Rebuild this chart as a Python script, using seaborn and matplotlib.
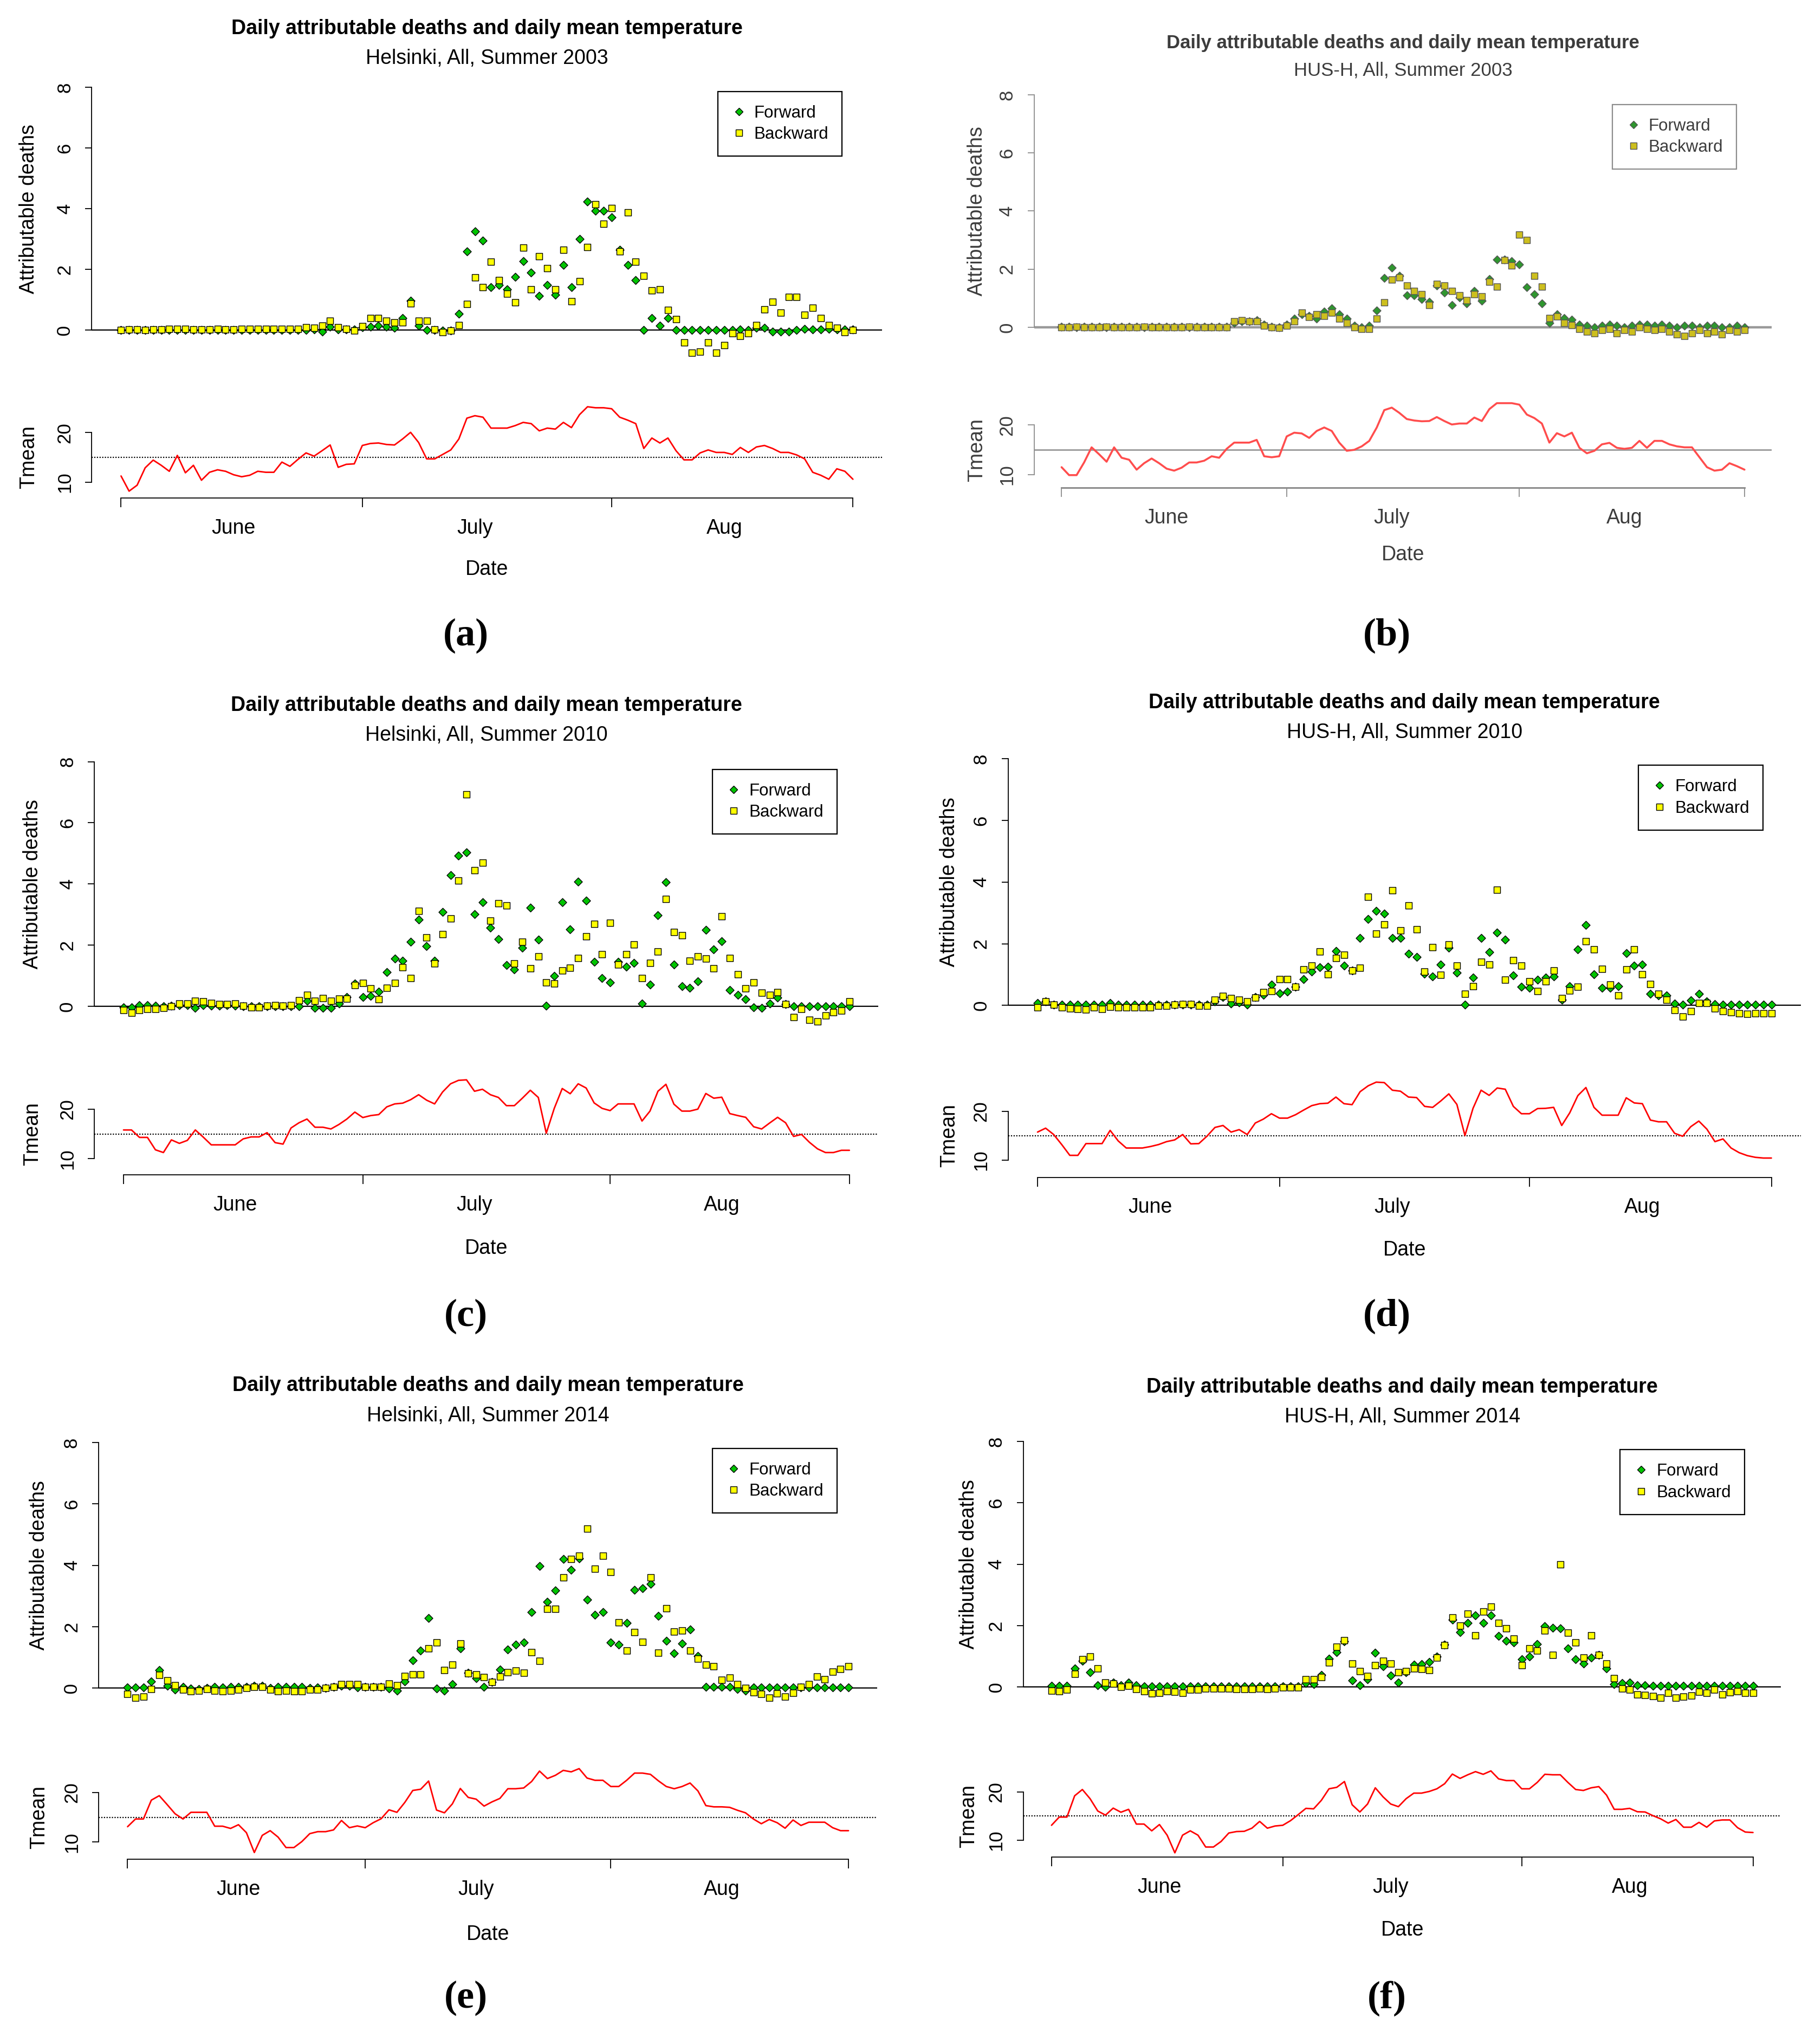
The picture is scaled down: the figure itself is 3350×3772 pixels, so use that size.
import numpy as np
import matplotlib
matplotlib.use("Agg")
import matplotlib.pyplot as plt
import seaborn as sns
from matplotlib.lines import Line2D

# ---- data: one value per day, 1 June .. 31 August (92 days) ----
# (a) Helsinki 2003
fwd_a = [0.0, 0.0, 0.0, 0.0, 0.0, 0.0, 0.0, 0.0, 0.0, 0.0,
         0.0, 0.0, 0.0, 0.0, 0.0, 0.0, 0.0, 0.0, 0.0, 0.0,
         0.0, 0.0, 0.0, 0.0, 0.02, -0.05, 0.12, 0.02, 0.02, 0.02,
         0.1, 0.12, 0.15, 0.12, 0.08, 0.4, 0.97, 0.14, 0.0, 0.0,
         -0.02, -0.02, 0.54, 2.6, 3.26, 2.95, 1.42, 1.48, 1.34, 1.76,
         2.28, 1.9, 1.13, 1.48, 1.16, 2.14, 1.42, 3.01, 4.23, 3.93,
         3.93, 3.71, 2.64, 2.14, 1.65, 0.0, 0.39, 0.15, 0.4, 0.0,
         0.0, 0.0, 0.0, 0.0, 0.0, 0.0, 0.0, 0.02, 0.0, 0.08,
         0.08, -0.04, -0.05, -0.05, 0.0, 0.05, 0.02, 0.02, 0.05, 0.02,
         0.02, 0.02]
bwd_a = [0.0, 0.02, 0.02, 0.0, 0.02, 0.02, 0.05, 0.05, 0.05, 0.02,
         0.02, 0.02, 0.05, 0.02, 0.02, 0.05, 0.05, 0.05, 0.05, 0.05,
         0.05, 0.05, 0.05, 0.1, 0.08, 0.15, 0.3, 0.1, 0.05, -0.01,
         0.13, 0.4, 0.4, 0.3, 0.25, 0.25, 0.88, 0.3, 0.3, 0.02,
         -0.06, -0.02, 0.17, 0.87, 1.73, 1.42, 2.25, 1.65, 1.2, 0.92,
         2.71, 1.34, 2.43, 2.04, 1.35, 2.64, 0.96, 1.61, 2.74, 4.14,
         3.51, 4.02, 2.6, 3.88, 2.25, 1.79, 1.31, 1.35, 0.67, 0.36,
         -0.4, -0.75, -0.7, -0.4, -0.75, -0.5, -0.1, -0.19, -0.1, 0.17,
         0.68, 0.94, 0.58, 1.09, 1.09, 0.5, 0.73, 0.4, 0.17, 0.08,
         -0.06, 0.0]
tmean_a = [11.25, 8.2, 9.4, 12.9, 14.45, 13.4, 12.2, 15.4, 11.9, 13.4,
           10.4, 12.0, 12.5, 12.2, 11.5, 11.1, 11.4, 12.2, 12.0, 12.0,
           14.05, 13.2, 14.6, 15.9, 15.25, 16.35, 17.5, 13.0, 13.6, 13.7,
           17.4, 17.8, 17.9, 17.6, 17.5, 18.7, 20.05, 18.0, 14.7, 14.7,
           15.6, 16.5, 18.7, 22.9, 23.4, 23.1, 20.9, 20.9, 20.9, 21.4,
           22.05, 21.8, 20.35, 20.9, 20.7, 22.05, 21.0, 23.6, 25.2, 25.0,
           25.0, 24.8, 23.1, 22.5, 21.8, 16.8, 18.9, 17.9, 18.9, 16.35,
           14.5, 14.5, 15.9, 16.5, 16.0, 16.0, 15.6, 17.0, 16.0, 17.1,
           17.4, 16.8, 16.0, 16.0, 15.5, 14.7, 12.0, 11.4, 10.6, 12.7,
           12.2, 10.6]

# (b) HUS-H 2003
fwd_b = [0.02, 0.02, 0.0, 0.02, 0.02, 0.02, 0.0, 0.02, 0.02, 0.02,
         0.02, 0.0, 0.02, 0.02, 0.02, 0.02, 0.02, 0.0, 0.02, 0.02,
         0.02, 0.02, 0.02, 0.15, 0.2, 0.2, 0.25, 0.1, 0.02, 0.0,
         0.1, 0.3, 0.45, 0.4, 0.3, 0.55, 0.65, 0.45, 0.3, 0.05,
         0.0, 0.05, 0.57, 1.7, 2.06, 1.78, 1.1, 1.1, 0.97, 0.88,
         1.44, 1.2, 0.76, 1.03, 0.82, 1.25, 0.91, 1.66, 2.34, 2.34,
         2.28, 2.16, 1.38, 1.13, 0.82, 0.14, 0.45, 0.32, 0.26, 0.1,
         0.05, 0.0, 0.05, 0.1, 0.05, 0.0, 0.05, 0.1, 0.1, 0.05,
         0.1, 0.05, 0.0, 0.05, 0.05, 0.0, 0.05, 0.05, 0.0, 0.0,
         0.05, 0.0]
bwd_b = [0.0, 0.0, 0.02, 0.0, 0.0, 0.0, 0.02, 0.0, 0.0, 0.0,
         0.0, 0.02, 0.0, 0.0, 0.0, 0.0, 0.0, 0.02, 0.0, 0.0,
         0.0, 0.0, 0.0, 0.2, 0.25, 0.2, 0.2, 0.05, 0.0, -0.02,
         0.05, 0.2, 0.5, 0.35, 0.45, 0.4, 0.5, 0.3, 0.15, 0.0,
         -0.05, -0.05, 0.3, 0.85, 1.65, 1.72, 1.44, 1.25, 1.13, 0.76,
         1.5, 1.44, 1.25, 1.1, 0.94, 1.13, 1.07, 1.57, 1.4, 2.31,
         2.12, 3.18, 3.0, 1.78, 1.4, 0.32, 0.38, 0.14, 0.07, -0.05,
         -0.15, -0.2, -0.1, -0.05, -0.2, -0.1, -0.15, 0.0, -0.05, -0.1,
         -0.05, -0.15, -0.25, -0.3, -0.2, -0.1, -0.2, -0.15, -0.25, -0.1,
         -0.15, -0.1]
tmean_b = [11.5, 9.9, 9.9, 12.45, 15.5, 14.1, 12.6, 15.5, 13.4, 13.0,
           11.0, 12.3, 13.25, 12.3, 11.2, 10.8, 11.4, 12.45, 12.45, 12.8,
           13.7, 13.4, 15.2, 16.45, 16.45, 16.45, 17.0, 13.7, 13.5, 13.7,
           17.7, 18.45, 18.3, 17.4, 18.8, 19.5, 18.8, 16.45, 14.8, 15.0,
           15.7, 16.8, 19.5, 23.0, 23.5, 22.45, 21.2, 20.9, 20.75, 20.8,
           21.6, 20.8, 20.1, 20.3, 20.3, 21.5, 20.8, 23.2, 24.4, 24.4,
           24.4, 24.1, 22.1, 21.4, 20.3, 16.45, 18.35, 17.7, 18.45, 15.4,
           14.3, 14.8, 16.1, 16.4, 15.4, 15.2, 15.4, 16.8, 15.4, 16.8,
           16.8, 16.1, 15.7, 15.5, 15.5, 13.5, 11.5, 10.8, 11.0, 12.3,
           11.7, 11.0]

# (c) Helsinki 2010
fwd_c = [-0.03, -0.03, 0.03, 0.03, 0.01, 0.0, 0.01, 0.04, 0.04, -0.06,
         0.03, 0.01, 0.01, 0.03, 0.01, 0.0, 0.0, 0.0, 0.0, 0.0,
         0.0, 0.0, 0.0, 0.18, -0.06, -0.06, -0.06, 0.09, 0.3, 0.74,
         0.3, 0.33, 0.47, 1.12, 1.55, 1.49, 2.1, 2.84, 1.96, 1.49,
         3.09, 4.29, 4.92, 5.03, 3.02, 3.4, 2.56, 2.2, 1.35, 1.2,
         1.92, 3.22, 2.18, 0.01, 0.99, 3.4, 2.51, 4.08, 3.46, 1.45,
         0.92, 0.78, 1.45, 1.3, 1.42, 0.09, 0.71, 2.97, 4.05, 1.37,
         0.65, 0.6, 0.82, 2.49, 1.86, 2.13, 0.53, 0.37, 0.22, -0.03,
         -0.06, 0.09, 0.28, 0.06, 0.0, 0.0, 0.0, 0.0, 0.0, 0.0,
         0.0, 0.0]
bwd_c = [-0.12, -0.22, -0.12, -0.09, -0.1, -0.06, 0.0, 0.09, 0.09, 0.17,
         0.15, 0.1, 0.06, 0.06, 0.09, 0.01, -0.03, -0.03, 0.01, 0.03,
         0.01, 0.03, 0.2, 0.37, 0.17, 0.27, 0.18, 0.24, 0.24, 0.68,
         0.76, 0.59, 0.22, 0.6, 0.76, 1.27, 0.92, 3.12, 2.25, 1.39,
         2.36, 2.87, 4.11, 6.93, 4.44, 4.69, 2.8, 3.36, 3.3, 1.39,
         2.1, 1.24, 1.63, 0.78, 0.75, 1.17, 1.25, 1.58, 2.28, 2.69,
         1.7, 2.72, 1.36, 1.7, 2.01, 0.92, 1.42, 1.78, 3.5, 2.43,
         2.32, 1.48, 1.63, 1.55, 1.24, 2.94, 1.58, 1.04, 0.58, 0.77,
         0.44, 0.37, 0.46, 0.06, -0.35, -0.1, -0.45, -0.5, -0.3, -0.2,
         -0.15, 0.15]
tmean_c = [15.8, 15.8, 14.3, 14.3, 11.8, 11.25, 13.8, 13.1, 13.7, 15.8,
           14.35, 12.8, 12.8, 12.8, 12.8, 14.0, 14.4, 14.4, 15.25, 13.25,
           12.95, 16.2, 17.25, 18.0, 16.35, 16.35, 16.0, 16.9, 18.0, 19.4,
           18.3, 18.7, 18.9, 20.45, 21.05, 21.2, 21.9, 22.9, 21.8, 21.05,
           23.45, 25.1, 25.8, 25.9, 23.6, 24.0, 22.9, 22.35, 20.7, 20.7,
           22.2, 23.8, 22.35, 15.15, 20.15, 24.15, 23.1, 25.1, 24.25, 21.25,
           20.15, 19.7, 21.05, 21.05, 21.05, 17.6, 19.6, 23.6, 25.0, 21.0,
           19.6, 19.6, 20.0, 23.15, 22.2, 22.4, 19.1, 18.7, 18.35, 16.45,
           16.0, 17.2, 18.35, 17.25, 14.5, 14.9, 13.3, 12.0, 11.25, 11.25,
           11.7, 11.7]

# (d) HUS-H 2010
fwd_d = [0.08, 0.13, 0.02, 0.02, 0.02, 0.02, 0.02, 0.02, 0.02, 0.08,
         0.02, 0.02, 0.02, 0.02, 0.02, 0.02, 0.02, 0.02, 0.02, 0.02,
         0.02, 0.02, 0.13, 0.27, 0.06, 0.1, 0.02, 0.27, 0.34, 0.68,
         0.4, 0.44, 0.6, 0.85, 1.09, 1.23, 1.26, 1.76, 1.29, 1.13,
         2.18, 2.81, 3.06, 2.97, 2.18, 2.18, 1.67, 1.57, 1.03, 0.93,
         1.32, 1.87, 1.07, 0.02, 0.91, 2.18, 1.73, 2.36, 2.13, 0.98,
         0.6, 0.57, 0.84, 0.9, 0.93, 0.19, 0.63, 1.81, 2.61, 1.01,
         0.57, 0.57, 0.63, 1.7, 1.29, 1.32, 0.37, 0.33, 0.33, 0.06,
         0.02, 0.16, 0.37, 0.13, 0.05, 0.02, 0.02, 0.02, 0.02, 0.02,
         0.02, 0.02]
bwd_d = [-0.06, 0.13, 0.02, -0.07, -0.1, -0.12, -0.13, -0.07, -0.12, -0.04,
         -0.06, -0.06, -0.06, -0.06, -0.06, -0.01, -0.01, 0.02, 0.05, 0.05,
         -0.01, -0.01, 0.19, 0.31, 0.23, 0.19, 0.13, 0.25, 0.43, 0.47,
         0.85, 0.85, 0.6, 1.16, 1.29, 1.74, 1.01, 1.54, 1.64, 1.13,
         1.22, 3.53, 2.32, 2.63, 3.74, 2.43, 3.25, 2.46, 1.1, 1.89,
         1.0, 1.97, 1.29, 0.37, 0.62, 1.42, 1.32, 3.76, 0.84, 1.47,
         1.29, 0.78, 0.46, 0.78, 1.13, 0.23, 0.49, 0.6, 2.08, 1.81,
         1.19, 0.68, 0.33, 1.16, 1.81, 1.01, 0.7, 0.37, 0.18, -0.16,
         -0.36, -0.19, 0.08, 0.08, -0.1, -0.19, -0.22, -0.25, -0.27, -0.25,
         -0.26, -0.25]
tmean_d = [15.75, 16.55, 15.25, 13.2, 11.0, 11.0, 13.4, 13.4, 13.4, 16.1,
           13.95, 12.5, 12.5, 12.5, 12.8, 13.2, 13.8, 14.15, 15.25, 13.35,
           13.4, 14.9, 16.7, 17.1, 15.75, 16.25, 15.25, 17.6, 18.4, 19.5,
           18.6, 18.6, 19.3, 20.25, 21.15, 21.55, 21.65, 22.9, 21.55, 21.35,
           24.0, 25.2, 25.95, 25.85, 24.3, 24.1, 22.9, 22.8, 21.0, 20.8,
           22.1, 23.55, 21.4, 15.05, 20.6, 24.3, 23.25, 24.75, 24.5, 21.0,
           19.5, 19.5, 20.55, 20.6, 20.8, 17.1, 19.7, 23.2, 24.85, 20.8,
           19.2, 19.2, 19.2, 22.75, 21.7, 21.55, 18.2, 17.85, 17.85, 15.5,
           14.9, 16.85, 18.0, 16.35, 13.8, 14.35, 12.5, 11.55, 10.95, 10.6,
           10.45, 10.45]

# (e) Helsinki 2014
fwd_e = [0.02, 0.02, 0.02, 0.22, 0.59, 0.07, -0.05, 0.04, -0.02, -0.04,
         0.01, 0.04, 0.02, 0.04, 0.04, 0.04, 0.08, 0.07, 0.01, 0.04,
         0.04, 0.04, 0.04, 0.01, 0.02, 0.01, 0.04, 0.07, 0.07, 0.02,
         0.04, 0.04, 0.04, -0.02, -0.08, 0.22, 0.91, 1.23, 2.28, -0.02,
         -0.08, 0.13, 1.29, 0.49, 0.32, 0.04, 0.2, 0.6, 1.26, 1.41,
         1.48, 2.47, 3.98, 2.81, 3.19, 4.2, 3.85, 4.22, 2.88, 2.39,
         2.47, 1.48, 1.41, 2.12, 3.2, 3.26, 3.39, 2.36, 1.54, 1.13,
         1.45, 1.91, 1.04, 0.04, 0.04, 0.04, 0.04, -0.04, -0.08, 0.02,
         0.02, 0.02, 0.02, 0.02, 0.02, 0.02, 0.02, 0.02, 0.02, 0.02,
         0.02, 0.02]
bwd_e = [-0.19, -0.31, -0.28, -0.04, 0.42, 0.25, 0.1, -0.05, -0.1, -0.08,
         -0.04, -0.08, -0.1, -0.08, -0.05, 0.01, 0.04, 0.04, -0.05, -0.1,
         -0.09, -0.1, -0.1, -0.05, -0.05, 0.01, 0.04, 0.12, 0.12, 0.12,
         0.04, 0.04, 0.04, 0.14, 0.1, 0.39, 0.44, 0.45, 1.29, 1.48,
         0.59, 0.76, 1.45, 0.48, 0.45, 0.35, 0.19, 0.38, 0.51, 0.57,
         0.49, 1.17, 0.88, 2.58, 2.58, 3.61, 4.2, 4.31, 5.19, 3.89,
         4.31, 3.79, 2.14, 1.23, 1.82, 1.51, 3.61, 1.16, 2.6, 1.84,
         1.88, 1.23, 0.95, 0.76, 0.71, 0.26, 0.34, 0.12, 0.0, -0.14,
         -0.19, -0.31, -0.18, -0.27, -0.16, 0.04, 0.12, 0.38, 0.29, 0.54,
         0.63, 0.71]
tmean_e = [13.1, 14.65, 14.65, 18.45, 19.35, 17.55, 15.7, 14.65, 16.0, 16.0,
           16.0, 13.2, 13.2, 12.75, 13.5, 11.9, 7.9, 11.35, 12.3, 11.0,
           8.9, 8.9, 10.1, 11.7, 12.1, 12.1, 12.45, 14.35, 12.9, 13.25,
           12.9, 13.9, 14.7, 16.5, 16.0, 18.0, 20.4, 20.65, 22.3, 16.45,
           15.9, 17.7, 20.8, 19.0, 18.65, 17.25, 18.1, 18.8, 20.75, 20.75,
           20.9, 22.2, 24.3, 22.8, 23.45, 24.45, 24.15, 24.8, 22.9, 22.45,
           22.45, 21.2, 21.2, 22.45, 23.9, 23.9, 23.65, 22.35, 21.2, 20.75,
           21.2, 21.9, 20.3, 17.35, 17.1, 17.1, 17.0, 16.4, 15.9, 14.65,
           13.7, 14.55, 13.9, 12.8, 14.45, 13.35, 14.0, 14.0, 14.0, 12.9,
           12.3, 12.3]

# (f) HUS-H 2014
fwd_f = [0.04, 0.04, 0.04, 0.61, 0.85, 0.48, 0.05, 0.0, 0.14, 0.05,
         0.14, 0.05, 0.02, 0.02, 0.02, 0.02, 0.02, 0.02, 0.02, 0.02,
         0.02, 0.02, 0.02, 0.02, 0.02, 0.02, 0.02, 0.02, 0.02, 0.02,
         0.02, 0.02, 0.02, 0.12, 0.09, 0.4, 0.93, 1.14, 1.49, 0.22,
         0.05, 0.26, 1.12, 0.67, 0.38, 0.15, 0.48, 0.73, 0.75, 0.81,
         0.99, 1.39, 2.2, 1.79, 2.08, 2.33, 2.08, 2.33, 1.67, 1.51,
         1.45, 0.91, 0.99, 1.4, 1.99, 1.93, 1.91, 1.26, 0.91, 0.77,
         0.95, 1.04, 0.61, 0.09, 0.12, 0.14, 0.06, 0.06, 0.04, 0.04,
         0.04, 0.04, 0.04, 0.04, 0.04, 0.04, 0.04, 0.04, 0.04, 0.04,
         0.04, 0.04]
bwd_f = [-0.11, -0.13, -0.08, 0.42, 0.91, 0.99, 0.61, 0.15, 0.11, 0.0,
         0.04, -0.07, -0.13, -0.2, -0.19, -0.14, -0.15, -0.19, -0.08, -0.08,
         -0.05, -0.05, -0.05, -0.05, -0.07, -0.07, -0.07, -0.05, -0.07, -0.05,
         -0.02, -0.02, -0.02, 0.26, 0.26, 0.33, 0.8, 1.32, 1.52, 0.77,
         0.51, 0.36, 0.71, 0.85, 0.77, 0.48, 0.51, 0.61, 0.58, 0.56,
         0.96, 1.36, 2.27, 2.0, 2.39, 1.69, 2.46, 2.62, 2.08, 1.91,
         1.58, 0.71, 1.26, 1.18, 1.85, 1.05, 3.99, 1.77, 1.46, 0.95,
         1.68, 1.04, 0.77, 0.28, -0.04, -0.09, -0.25, -0.26, -0.29, -0.35,
         -0.19, -0.35, -0.31, -0.27, -0.15, -0.19, -0.09, -0.25, -0.17, -0.14,
         -0.19, -0.19]
tmean_f = [13.1, 14.8, 14.8, 19.2, 20.5, 18.6, 16.05, 15.2, 16.65, 15.8,
           16.4, 13.35, 13.35, 11.95, 13.25, 11.05, 7.4, 11.05, 11.95, 11.05,
           8.6, 8.6, 9.75, 11.5, 11.8, 11.85, 12.5, 13.9, 12.5, 12.95,
           13.1, 14.05, 15.3, 16.6, 16.5, 18.25, 20.65, 20.95, 22.15, 17.35,
           15.85, 17.5, 20.85, 19.0, 17.5, 16.95, 18.6, 19.75, 19.75, 20.1,
           20.65, 21.7, 23.7, 22.8, 23.55, 24.2, 23.65, 24.35, 22.7, 22.35,
           22.35, 20.65, 20.65, 21.95, 23.65, 23.55, 23.55, 21.95, 20.5, 20.3,
           20.85, 21.1, 19.35, 16.4, 16.4, 16.6, 15.9, 15.85, 15.1, 14.45,
           13.55, 14.3, 12.7, 12.7, 13.7, 12.7, 14.0, 14.2, 14.2, 12.6,
           11.7, 11.6]

subtitles = ["Helsinki, All, Summer 2003", "HUS-H, All, Summer 2003",
             "Helsinki, All, Summer 2010", "HUS-H, All, Summer 2010",
             "Helsinki, All, Summer 2014", "HUS-H, All, Summer 2014"]
letters = ["(a)", "(b)", "(c)", "(d)", "(e)", "(f)"]
month_names = ["June", "July", "Aug"]
month_mid = [14, 44, 75]        # 15th of each month
month_edges = [0, 30, 61, 91]   # 1 Jun, 1 Jul, 1 Aug, 31 Aug
threshold = 15

forwards = [fwd_a, fwd_b, fwd_c, fwd_d, fwd_e, fwd_f]
backwards = [bwd_a, bwd_b, bwd_c, bwd_d, bwd_e, bwd_f]
tmeans = [tmean_a, tmean_b, tmean_c, tmean_d, tmean_e, tmean_f]

# ---- layout, in reference preview coordinates (1390 x 1565) ----
layout = [
    dict(x0=92.7, x91=653.2, zero=252.8, unit=23.25, t15=350.2, tunit=3.8, axis=381.3,
         title=(22, 45), leg=(645, 70), month_y=405, date_y=436, ylab_x=22, letter=(357, 487)),
    dict(x0=813.0, x91=1336.0, zero=250.6, unit=22.25, t15=344.4, tunit=3.8, axis=373.5,
         title=(33, 54), leg=(1330, 80), month_y=395, date_y=425, ylab_x=748, letter=(1062, 487)),
    dict(x0=94.6, x91=650.5, zero=770.4, unit=23.4, t15=868.2, tunit=3.8, axis=899.7,
         title=(540, 563), leg=(641, 589), month_y=924, date_y=956, ylab_x=25, letter=(357, 1008)),
    dict(x0=794.6, x91=1356.6, zero=769.8, unit=23.6, t15=869.6, tunit=3.75, axis=901.4,
         title=(538, 561), leg=(1350, 586), month_y=926, date_y=957, ylab_x=727, letter=(1062, 1008)),
    dict(x0=97.7, x91=649.8, zero=1292.5, unit=23.5, t15=1391.4, tunit=3.8, axis=1423.6,
         title=(1061, 1084), leg=(641, 1109), month_y=1449, date_y=1481, ylab_x=30, letter=(357, 1530)),
    dict(x0=805.3, x91=1342.5, zero=1291.7, unit=23.5, t15=1390.5, tunit=3.7, axis=1422.0,
         title=(1062, 1085), leg=(1336, 1110), month_y=1447, date_y=1478, ylab_x=742, letter=(1062, 1530)),
]

sns.set_style("ticks", rc={"axes.edgecolor": "black", "text.color": "black",
                           "xtick.color": "black", "ytick.color": "black",
                           "axes.labelcolor": "black"})
plt.rcParams["font.family"] = ["Liberation Sans", "DejaVu Sans"]

W, H = 1390.0, 1565.0
fig = plt.figure(figsize=(33.5, 37.72), dpi=100)


def box(l, t, r, b):
    return fig.add_axes([l / W, 1 - b / H, (r - l) / W, (b - t) / H])


def ftext(x, y, s, **kw):
    fig.text(x / W, 1 - y / H, s, ha="center", va="center", **kw)


pad = 0.04 * 91
for i, L in enumerate(layout):
    faded = (i == 1)
    ink = "#3c3c3c" if faded else "black"
    axis_col = "#8c8c8c" if faded else "black"
    green = "#2f962f" if faded else "#00c400"
    yellow = "#cdbf1e" if faded else "#ffff00"
    edge = "#555555" if faded else "black"
    red = "#ff4d4d" if faded else "red"

    k = (L["x91"] - L["x0"]) / 91
    left, right = L["x0"] - pad * k, L["x91"] + pad * k
    cx = (left + right) / 2

    # attributable deaths
    ax = box(left, L["zero"] - 8.35 * L["unit"], right, L["zero"] + 1.0 * L["unit"])
    ax.axhline(0, color="#9a9a9a" if faded else "black", lw=3.2 if faded else 1.6, zorder=1)
    f = forwards[i]
    b = backwards[i]
    sns.scatterplot(x=np.arange(len(f)), y=f, ax=ax, marker="D", s=58, color=green,
                    edgecolor=edge, linewidth=1.0, legend=False, zorder=3)
    sns.scatterplot(x=np.arange(len(b)), y=b, ax=ax, marker="s", s=85, color=yellow,
                    edgecolor=edge, linewidth=1.0, legend=False, zorder=4)
    ax.set_xlim(-pad, 91 + pad)
    ax.set_ylim(-1.0, 8.35)
    for s in ["top", "right", "bottom"]:
        ax.spines[s].set_visible(False)
    ax.spines["left"].set_bounds(0, 8)
    ax.spines["left"].set_color(axis_col)
    ax.spines["left"].set_linewidth(1.3)
    ax.set_xticks([])
    ax.set_yticks([0, 2, 4, 6, 8])
    ax.set_yticklabels(["0", "2", "4", "6", "8"], rotation=90, va="center")
    ax.tick_params(axis="y", length=9, width=1.3, pad=15, labelsize=25,
                   color=axis_col, labelcolor=ink)
    ax.set_xlabel("")
    ax.set_ylabel("")

    handles = [Line2D([], [], ls="none", marker="D", ms=7.6, mfc=green, mec=edge, mew=1.0),
               Line2D([], [], ls="none", marker="s", ms=9.2, mfc=yellow, mec=edge, mew=1.0)]
    leg = ax.legend(handles, ["Forward", "Backward"], loc="upper right",
                    bbox_to_anchor=(L["leg"][0] / W, 1 - L["leg"][1] / H),
                    bbox_transform=fig.transFigure, borderaxespad=0, frameon=True,
                    fancybox=False, edgecolor=axis_col, framealpha=1, fontsize=22.5,
                    handlelength=0.9, handletextpad=0.45, labelspacing=0.3, borderpad=0.8,
                    labelcolor=ink)
    leg.get_frame().set_linewidth(1.6)

    # daily mean temperature
    t_lo = threshold - (L["axis"] - L["t15"]) / L["tunit"]
    axT = box(left, L["t15"] - 12 * L["tunit"], right, L["axis"])
    t = tmeans[i]
    if faded:
        axT.axhline(threshold, color="#a0a0a0", lw=2.2, zorder=1)
    else:
        axT.axhline(threshold, color="black", lw=1.6, ls=(0, (1, 1.2)), zorder=1)
    sns.lineplot(x=np.arange(len(t)), y=t, ax=axT, color=red,
                 linewidth=2.6 if faded else 2.0, legend=False, zorder=3)
    axT.set_xlim(-pad, 91 + pad)
    axT.set_ylim(t_lo, 27)
    axT.spines["top"].set_visible(False)
    axT.spines["right"].set_visible(False)
    axT.spines["left"].set_bounds(10, 20)
    axT.spines["bottom"].set_bounds(0, 91)
    for s in ["left", "bottom"]:
        axT.spines[s].set_color(axis_col)
        axT.spines[s].set_linewidth(2.2 if (faded and s == "bottom") else 1.3)
    axT.set_yticks([10, 20])
    axT.set_yticklabels(["10", "20"], rotation=90, va="center")
    axT.tick_params(axis="y", length=9, width=1.3, pad=15, labelsize=25,
                    color=axis_col, labelcolor=ink)
    axT.set_xticks(month_edges)
    axT.set_xticklabels([])
    axT.set_xticks(month_mid, minor=True)
    axT.set_xticklabels(month_names, minor=True)
    axT.tick_params(axis="x", which="major", length=12, width=1.3, color=axis_col)
    axT.tick_params(axis="x", which="minor", length=0, pad=27, labelsize=27, labelcolor=ink)
    axT.set_xlabel("")
    axT.set_ylabel("")

    # text around the panel
    tsize = 25 if faded else 27
    ftext(cx, L["title"][0], "Daily attributable deaths and daily mean temperature",
          fontsize=tsize, fontweight="bold", color=ink)
    ftext(cx, L["title"][1], subtitles[i], fontsize=tsize, color=ink)
    ftext(L["ylab_x"], L["zero"] - 4 * L["unit"], "Attributable deaths",
          rotation=90, fontsize=27, color=ink)
    ftext(L["ylab_x"], L["t15"], "Tmean", rotation=90, fontsize=27, color=ink)
    ftext(cx, L["date_y"], "Date", fontsize=27, color=ink)
    ftext(L["letter"][0], L["letter"][1], letters[i], fontsize=52, fontweight="bold",
          family=["Liberation Serif", "DejaVu Serif"])

fig.savefig("out.png", dpi=100)
